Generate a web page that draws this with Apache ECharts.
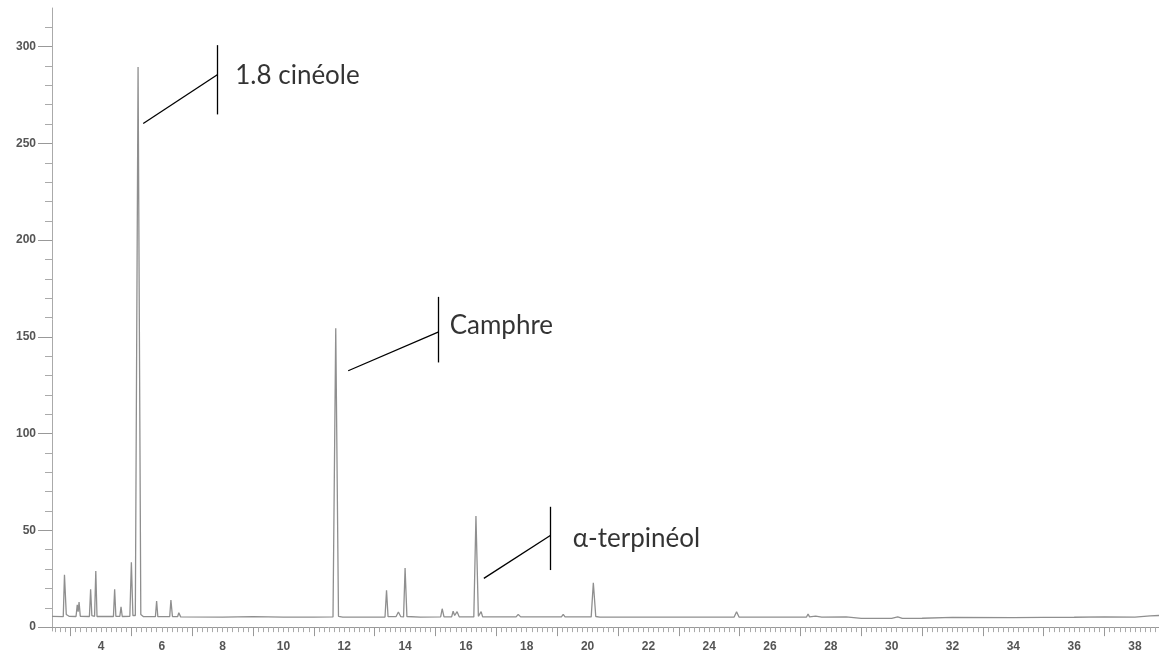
<!DOCTYPE html>
<html>
<head>
<meta charset="utf-8">
<script src="https://cdn.jsdelivr.net/npm/echarts@6/dist/echarts.min.js"></script>
<style>
html,body{margin:0;padding:0;background:#fff;}
#chart{width:1159px;height:656px;}
</style>
</head>
<body>
<div id="chart"></div>
<script>
// Chromatogram trace: [retention time (min), signal]
const trace = [
  [2.39,5.6],[2.76,5.4],[2.80,27],[2.86,6.5],[2.95,5.6],
  [3.18,5.5],[3.22,11.5],[3.25,8],[3.28,13],[3.32,5.6],
  [3.62,5.5],[3.66,19.5],[3.70,6],[3.79,5.6],[3.83,29],[3.87,5.5],
  [4.41,5.5],[4.45,19.5],[4.49,5.6],[4.62,5.6],[4.66,10.5],[4.70,5.5],
  [4.95,5.6],[5.00,33.5],[5.05,6],[5.13,6],[5.22,289.5],[5.31,6.5],[5.40,5.4],
  [5.79,5.4],[5.83,13.5],[5.87,5.4],
  [6.26,5.4],[6.30,14],[6.35,5.5],[6.52,5.4],[6.56,7.4],[6.62,5.3],
  [8.0,5.2],[9.0,5.4],[10.0,5.2],[11.0,5.2],[11.63,5.3],[11.72,154.5],[11.81,5.6],[11.95,5.2],
  [13.34,5.2],[13.39,19],[13.44,5.4],[13.70,5.4],[13.78,7.8],[13.86,5.4],[13.95,5.3],[14.0,30.5],[14.06,5.5],
  [14.5,5.2],[15.17,5.3],[15.22,9.5],[15.28,5.3],[15.53,5.3],[15.58,8.2],[15.63,6],[15.71,8],[15.78,5.3],
  [16.26,5.3],[16.33,57.4],[16.41,5.6],[16.46,5.4],[16.50,8],[16.55,5.3],
  [17.65,5.3],[17.72,6.6],[17.80,5.3],
  [19.14,5.3],[19.20,6.6],[19.26,5.3],
  [20.12,5.3],[20.19,22.9],[20.27,5.5],[20.4,5.2],
  [22.0,5.2],[24.82,5.2],[24.90,8],[24.98,5.2],[26.20,5.2],[26.26,6],[26.32,5.2],
  [27.20,5.2],[27.25,6.8],[27.30,5.3],[27.5,5.7],[27.7,5.2],[28.5,5.3],[29.0,4.5],
  [30.0,4.5],[30.2,5.3],[30.35,4.5],[31.0,4.6],[32.0,5.0],[34.0,4.9],[35.0,5.0],
  [36.0,5.1],[37.0,5.3],[38.0,5.2],[38.5,5.8],[38.79,6.0]
];

// Annotations (data coordinates): name, text anchor, leader line, vertical bar
const annoNames = ['1.8 cinéole', 'Camphre', 'α-terpinéol'];
const annoText  = [[8.40, 284.8], [15.45, 155.7], [19.50, 46.0]];
const annoLeader = [[[5.39, 260.3], [7.838, 285.6]], [[12.13, 132.5], [15.105, 152.6]], [[16.59, 25.2], [18.788, 47.5]]];
const annoBar = [[[7.838, 300.8], [7.838, 265.0]], [[15.105, 170.7], [15.105, 136.8]], [[18.788, 62.2], [18.788, 29.5]]];

// Axis tick labels
const xLabels = [4,6,8,10,12,14,16,18,20,22,24,26,28,30,32,34,36,38];
const yLabels = [0,50,100,150,200,250,300];
const xRange = [2.39, 38.79];
const yRange = [-2, 320];

const xMinor = [];
for (let k = 15; k <= 232; k++) xMinor.push(k / 6);
const xMajor = [];
for (let k = 3; k <= 37; k += 2) xMajor.push(k);
const yMinor = [];
for (let v = 10; v <= 310; v += 10) if (v % 50 !== 0) yMinor.push(v);

const lblStyle = {fontFamily: 'Liberation Sans', fontSize: 12, fontWeight: 'bold', color: '#555'};

const lineSegs = [];
annoLeader.forEach(s => lineSegs.push([{coord: s[0]}, {coord: s[1]}]));
annoBar.forEach(s => lineSegs.push([{coord: s[0]}, {coord: s[1]}]));

const chart = echarts.init(document.getElementById('chart'), null, {renderer: 'canvas'});
chart.setOption({
  animation: false,
  backgroundColor: '#fff',
  grid: {left: 52, right: 0, top: 8, bottom: 25},
  xAxis: [{
    type: 'value', min: xRange[0], max: xRange[1], position: 'bottom',
    splitLine: {show: false},
    axisLine: {show: true, lineStyle: {color: '#999', width: 1}},
    axisTick: {show: true, customValues: xMinor, length: 5, lineStyle: {color: '#aaa'}},
    axisLabel: Object.assign({customValues: xLabels, margin: 10}, lblStyle)
  }, {
    type: 'value', min: xRange[0], max: xRange[1], position: 'bottom',
    splitLine: {show: false},
    axisLine: {show: false},
    axisTick: {show: true, customValues: xMajor, length: 9, lineStyle: {color: '#999'}},
    axisLabel: {show: false}
  }],
  yAxis: [{
    type: 'value', min: yRange[0], max: yRange[1],
    splitLine: {show: false},
    axisLine: {show: true, lineStyle: {color: '#aaa', width: 1}},
    axisTick: {show: true, customValues: yLabels, length: 14, lineStyle: {color: '#999'}},
    axisLabel: Object.assign({customValues: yLabels, margin: 16}, lblStyle)
  }, {
    type: 'value', min: yRange[0], max: yRange[1], position: 'left',
    splitLine: {show: false},
    axisLine: {show: false},
    axisTick: {show: true, customValues: yMinor, length: 7, lineStyle: {color: '#aaa'}},
    axisLabel: {show: false}
  }],
  series: [{
    type: 'line',
    data: trace,
    showSymbol: false,
    symbol: 'none',
    lineStyle: {color: '#8f8f8f', width: 1.3},
    markLine: {
      silent: true,
      symbol: ['none', 'none'],
      label: {show: false},
      lineStyle: {color: '#000', width: 1.3, type: 'solid'},
      data: lineSegs
    }
  }, {
    type: 'scatter',
    data: annoText.map((p, i) => [p[0], p[1], annoNames[i]]),
    symbolSize: 1,
    itemStyle: {color: 'rgba(0,0,0,0)'},
    label: {
      show: true, position: 'right', distance: 0,
      formatter: p => p.data[2],
      fontFamily: 'Lato', fontSize: 26, color: '#000'
    }
  }]
});
</script>
</body>
</html>
